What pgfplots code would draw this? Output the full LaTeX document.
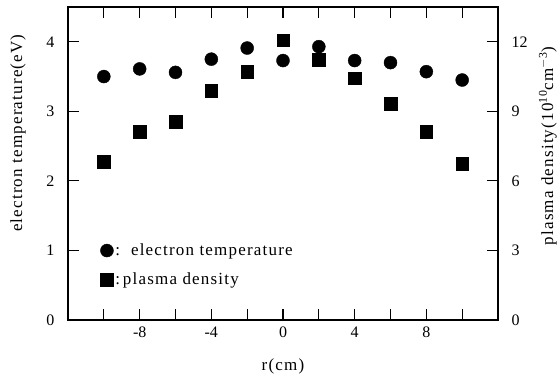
\documentclass[border=0pt]{standalone}
\usepackage{fontspec}
\setmainfont{Liberation Serif}
\newfontfamily\spaced[LetterSpace=7]{Liberation Serif}
\usepackage{pgfplots}
\pgfplotsset{compat=1.18}
\begin{document}
\begin{tikzpicture}
\pgfplotsset{
  common/.style={
    x=17.9167pt,
    xmin=-12, xmax=12,
    axis line style={line width=1.1pt},
    major tick length=11pt,
    tick style={line width=1.1pt, black},
    tick label style={font=\fontsize{16}{18}\selectfont},
    label style={font=\spaced\fontsize{17}{19}\selectfont},
    /pgf/number format/assume math mode=true,
  }
}
\begin{axis}[common,
  y=69.5556pt,
  ymin=0, ymax=4.5, ytick={0,1,2,3,4},
  xtick={-10,-8,-6,-4,-2,0,2,4,6,8,10},
  xticklabels={,-8,,-4,,0,,4,,8,},
  yticklabel style={xshift=-10pt},
  xticklabel style={yshift=-3pt},
  xlabel={r(cm)}, ylabel={electron temperature(eV)},
  xlabel style={at={(axis description cs:0.5,-0.147)}, anchor=center},
  ylabel style={at={(axis description cs:-0.116,0.597)}, anchor=center},
  legend style={draw=none, fill=none, at={(axis description cs:0.075,0.10)}, anchor=south west,
    font=\spaced\fontsize{17}{19}\selectfont, row sep=12pt, inner sep=0pt},
  legend cell align=left,
  legend image code/.code={\draw[#1] plot coordinates {(0.25cm,0cm)};},
]
\addplot[only marks, mark=*, mark size=6.5pt, black] coordinates {
  (-10,3.50) (-8,3.61) (-6,3.56) (-4,3.75) (-2,3.91) (0,3.73)
  (2,3.93) (4,3.73) (6,3.70) (8,3.57) (10,3.45)
};
\addlegendentry{:\ \ electron temperature}
\addlegendimage{only marks, mark=square*, mark size=6.3pt, black}
\addlegendentry{:\,plasma density}
\end{axis}
\begin{axis}[common,
  y=23.1852pt,
  ymin=0, ymax=13.5, ytick={0,3,6,9,12},
  axis y line*=right, axis x line=none,
  yticklabel style={xshift=10pt},
  ylabel={plasma density(10\textsuperscript{10}cm\textsuperscript{$-$3})},
  ylabel style={at={(axis description cs:1.116,0.556)}, anchor=center},
]
\addplot[only marks, mark=square*, mark size=6.3pt, black] coordinates {
  (-10,6.83) (-8,8.13) (-6,8.56) (-4,9.90) (-2,10.72) (0,12.06)
  (2,11.22) (4,10.43) (6,9.33) (8,8.13) (10,6.73)
};
\end{axis}
\pgfresetboundingbox
\path[use as bounding box] (-68pt,-57pt) rectangle (492pt,320pt);
\end{tikzpicture}
\end{document}
